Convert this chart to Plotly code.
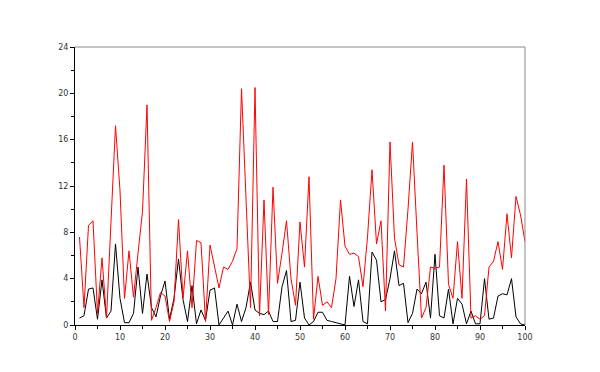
import plotly.graph_objects as go

x_vals = list(range(1, 101))

red_vals = [
    7.6, 1.5, 8.6, 9.0, 1.0, 5.8, 0.6, 8.5, 17.2, 11.6,
    2.3, 6.4, 2.4, 6.2, 9.8, 19.0, 0.4, 1.5, 2.8, 2.5,
    0.3, 2.0, 9.1, 2.3, 6.4, 1.5, 7.3, 7.1, 0.3, 6.9,
    5.0, 3.2, 5.0, 4.8, 5.5, 6.6, 20.4, 11.0, 1.5, 20.5,
    0.8, 10.8, 0.9, 11.9, 3.6, 6.2, 9.0, 4.0, 1.7, 8.9,
    5.0, 12.8, 0.5, 4.2, 1.7, 2.0, 1.5, 4.0, 10.8, 6.8,
    6.1, 6.2, 5.9, 3.3, 7.6, 13.4, 7.0, 9.0, 1.2, 15.8,
    7.5, 5.2, 5.0, 10.0, 15.8, 8.0, 0.6, 1.5, 5.0, 4.9,
    5.0, 13.8, 3.5, 2.3, 7.2, 2.3, 12.6, 0.6, 0.8, 0.5,
    0.8, 5.0, 5.5, 7.2, 4.8, 9.6, 5.8, 11.1, 9.5, 7.2,
]

black_vals = [
    0.6, 0.8, 3.1, 3.2, 0.5, 3.9, 0.6, 1.2, 7.0, 2.3,
    0.2, 0.2, 1.0, 5.0, 1.0, 4.4, 1.5, 0.7, 2.5, 3.8,
    0.5, 2.3, 5.7, 2.2, 0.3, 3.4, 0.1, 1.3, 0.4, 3.0,
    3.2, 0.0, 0.6, 1.2, 0.0, 1.8, 0.3, 1.5, 3.7, 1.3,
    1.0, 0.9, 1.2, 0.3, 0.3, 3.3, 4.7, 0.3, 0.4, 3.7,
    0.6, 0.0, 0.3, 1.1, 1.1, 0.4, 0.3, 0.2, 0.05, 0.0,
    4.2, 1.6, 3.9, 0.3, 0.1, 6.3, 5.6, 2.0, 2.2, 4.0,
    6.4, 3.4, 3.6, 0.2, 1.0, 3.1, 2.7, 3.7, 0.6, 6.1,
    0.8, 0.6, 3.1, 0.1, 2.3, 1.8, 0.1, 1.2, 0.1, 0.1,
    4.0, 0.5, 0.6, 2.5, 2.7, 2.6, 4.0, 0.7, 0.1, 0.0,
]

x_ticks = [0, 10, 20, 30, 40, 50, 60, 70, 80, 90, 100]
y_ticks = [0, 4, 8, 12, 16, 20, 24]

fig = go.Figure()
fig.add_trace(go.Scatter(x=x_vals, y=black_vals, mode="lines",
                         line=dict(color="#000000", width=1), showlegend=False))
fig.add_trace(go.Scatter(x=x_vals, y=red_vals, mode="lines",
                         line=dict(color="#ff0000", width=1), showlegend=False))

axis_font = dict(family="DejaVu Sans, Liberation Sans, sans-serif", size=8, color="#333333")

fig.update_xaxes(range=[0, 100], tickvals=x_ticks, ticktext=[str(v) for v in x_ticks],
                 showgrid=False, zeroline=False, showline=True, linecolor="#000000",
                 linewidth=1, ticks="outside", ticklen=4, tickcolor="#000000",
                 tickfont=axis_font,
                 minor=dict(tickvals=list(range(5, 100, 10)), ticks="outside",
                            ticklen=3, tickcolor="#000000"))
fig.update_yaxes(range=[0, 24], tickvals=y_ticks, ticktext=[str(v) for v in y_ticks],
                 showgrid=False, zeroline=False, showline=True, linecolor="#000000",
                 linewidth=1, ticks="outside", ticklen=4, tickcolor="#000000",
                 tickfont=axis_font,
                 minor=dict(tickvals=list(range(2, 24, 4)), ticks="outside",
                            ticklen=3, tickcolor="#000000"))

fig.add_shape(type="line", xref="paper", yref="paper", x0=0, x1=1, y0=1, y1=1,
              line=dict(color="#888888", width=1))
fig.add_shape(type="line", xref="paper", yref="paper", x0=1, x1=1, y0=0, y1=1,
              line=dict(color="#888888", width=1))

fig.update_layout(width=600, height=372,
                  margin=dict(l=67, r=83, t=39, b=55),
                  paper_bgcolor="#ffffff", plot_bgcolor="#ffffff")

fig.write_html("out.html")
